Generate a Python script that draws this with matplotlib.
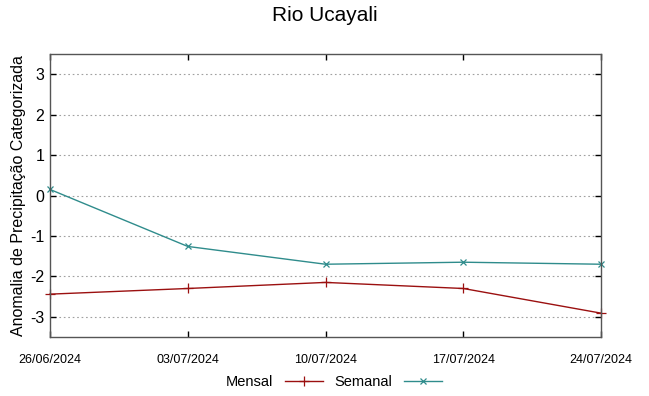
import matplotlib
matplotlib.use("Agg")
import matplotlib.pyplot as plt

plt.rcParams['font.family'] = ['Liberation Sans', 'DejaVu Sans']

dates = ["26/06/2024", "03/07/2024", "10/07/2024", "17/07/2024", "24/07/2024"]
mensal = [-2.44, -2.30, -2.15, -2.30, -2.91]
semanal = [0.15, -1.26, -1.70, -1.65, -1.70]
yticks = [3, 2, 1, 0, -1, -2, -3]

fig = plt.figure(figsize=(6.49, 3.96), dpi=100)
ax = fig.add_axes([50/649, 1-337/396, (601-50)/649, (337-54)/396])
x = list(range(len(dates)))
ax.plot(x, mensal, color='#9b1010', lw=1.0, marker='+', ms=7, mew=0.9, label='Mensal', clip_on=False)
ax.plot(x, semanal, color='#2f8c8c', lw=1.0, marker='x', ms=5, mew=0.9, label='Semanal', clip_on=False)

ax.set_xlim(0, len(dates)-1)
ax.set_ylim(-3.5, 3.5)
ax.set_xticks(x)
ax.set_xticklabels(dates, fontsize=9)
ax.set_yticks(yticks)
ax.set_yticklabels([str(v) for v in yticks], fontsize=11.5)
ax.tick_params(direction='in', top=True, right=True, length=4, width=1, pad=4)
ax.tick_params(axis='x', pad=12)
ax.grid(axis='y', color='#a0a0a0', linestyle=(0, (1.5, 2.5)), lw=0.8)
for s in ax.spines.values():
    s.set_color('#555555')
    s.set_linewidth(1.0)
ax.set_ylabel('Anomalia de Precipitação Categorizada', fontsize=11.5, labelpad=3)
fig.suptitle('Rio Ucayali', fontsize=15, y=0.985)
fig.legend(loc='center', bbox_to_anchor=(0.515, 1-382/396), ncol=2, frameon=False,
           markerfirst=False, fontsize=10.5, handlelength=2.6, columnspacing=0.8, handletextpad=0.8)
fig.savefig('out.png', dpi=100)
